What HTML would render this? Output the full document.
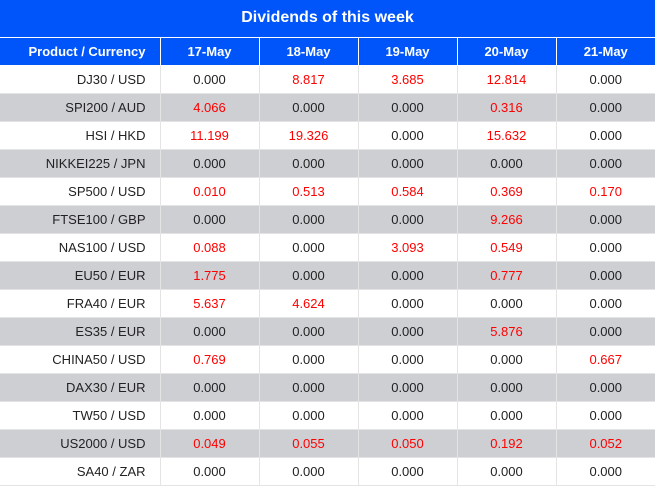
<!DOCTYPE html>
<html><head><style>
body{margin:0;width:655px;height:486px;overflow:hidden;background:#fff;font-family:"Liberation Sans",Arial,sans-serif}
.t{height:37px;background:#0055fa;color:#fff;font-weight:bold;font-size:16px;text-align:center;line-height:35px;border-bottom:1px solid #fff}
table{border-collapse:collapse;width:655px;table-layout:fixed}
td,th{height:27px;padding:0;font-size:13px;text-align:center;border-left:1px solid #e4e4e4;border-bottom:1px solid #e4e4e4}
td:first-child,th:first-child{border-left:none;text-align:right;padding-right:14px}
th{background:#0055fa;color:#fff;font-weight:bold;border-left:1px solid #fff;border-bottom:1px solid #fff}
td{color:#222}
tr.g td{background:#cdcfd3}
.r{color:#f00}
</style></head><body>
<div class="t">Dividends of this week</div>
<table>
<colgroup><col style="width:160px"><col style="width:99px"><col style="width:99px"><col style="width:99px"><col style="width:99px"><col style="width:99px"></colgroup>
<tr><th>Product / Currency</th><th>17-May</th><th>18-May</th><th>19-May</th><th>20-May</th><th>21-May</th></tr>
<tr><td>DJ30 / USD</td><td>0.000</td><td class="r">8.817</td><td class="r">3.685</td><td class="r">12.814</td><td>0.000</td></tr>
<tr class="g"><td>SPI200 / AUD</td><td class="r">4.066</td><td>0.000</td><td>0.000</td><td class="r">0.316</td><td>0.000</td></tr>
<tr><td>HSI / HKD</td><td class="r">11.199</td><td class="r">19.326</td><td>0.000</td><td class="r">15.632</td><td>0.000</td></tr>
<tr class="g"><td>NIKKEI225 / JPN</td><td>0.000</td><td>0.000</td><td>0.000</td><td>0.000</td><td>0.000</td></tr>
<tr><td>SP500 / USD</td><td class="r">0.010</td><td class="r">0.513</td><td class="r">0.584</td><td class="r">0.369</td><td class="r">0.170</td></tr>
<tr class="g"><td>FTSE100 / GBP</td><td>0.000</td><td>0.000</td><td>0.000</td><td class="r">9.266</td><td>0.000</td></tr>
<tr><td>NAS100 / USD</td><td class="r">0.088</td><td>0.000</td><td class="r">3.093</td><td class="r">0.549</td><td>0.000</td></tr>
<tr class="g"><td>EU50 / EUR</td><td class="r">1.775</td><td>0.000</td><td>0.000</td><td class="r">0.777</td><td>0.000</td></tr>
<tr><td>FRA40 / EUR</td><td class="r">5.637</td><td class="r">4.624</td><td>0.000</td><td>0.000</td><td>0.000</td></tr>
<tr class="g"><td>ES35 / EUR</td><td>0.000</td><td>0.000</td><td>0.000</td><td class="r">5.876</td><td>0.000</td></tr>
<tr><td>CHINA50 / USD</td><td class="r">0.769</td><td>0.000</td><td>0.000</td><td>0.000</td><td class="r">0.667</td></tr>
<tr class="g"><td>DAX30 / EUR</td><td>0.000</td><td>0.000</td><td>0.000</td><td>0.000</td><td>0.000</td></tr>
<tr><td>TW50 / USD</td><td>0.000</td><td>0.000</td><td>0.000</td><td>0.000</td><td>0.000</td></tr>
<tr class="g"><td>US2000 / USD</td><td class="r">0.049</td><td class="r">0.055</td><td class="r">0.050</td><td class="r">0.192</td><td class="r">0.052</td></tr>
<tr><td>SA40 / ZAR</td><td>0.000</td><td>0.000</td><td>0.000</td><td>0.000</td><td>0.000</td></tr>
</table>
</body></html>
